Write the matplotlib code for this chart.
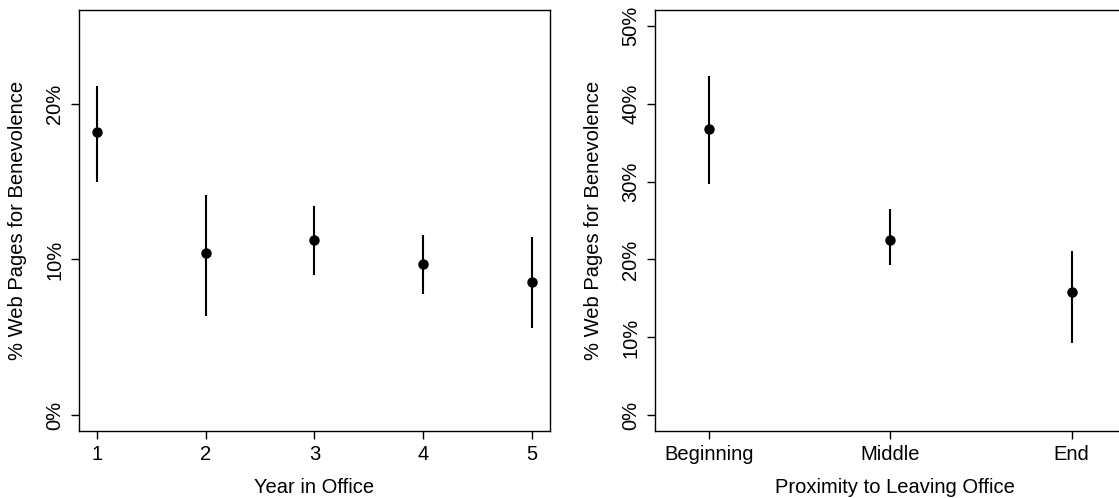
import matplotlib
matplotlib.use("Agg")
import matplotlib.pyplot as plt
import numpy as np

plt.rcParams['font.family'] = ['Liberation Sans', 'DejaVu Sans']

# Left panel: Year in Office
years = [1, 2, 3, 4, 5]
year_est = [18.16, 10.40, 11.27, 9.71, 8.54]
year_lo = [15.0, 6.37, 8.99, 7.79, 5.58]
year_hi = [21.15, 14.14, 13.45, 11.55, 11.42]
left_yticks = [0, 10, 20]

# Right panel: Proximity to Leaving Office
prox_labels = ["Beginning", "Middle", "End"]
prox_est = [36.8, 22.44, 15.77]
prox_lo = [29.74, 19.27, 9.23]
prox_hi = [43.5, 26.45, 21.1]
right_yticks = [0, 10, 20, 30, 40, 50]

FS = 14.5
fig = plt.figure(figsize=(11.19, 4.98), dpi=100)
W, H = 1119, 498
ax1 = fig.add_axes([79.3 / W, 1 - 431 / H, (549.7 - 79.3) / W, (431 - 10) / H])
ax2 = fig.add_axes([655.3 / W, 1 - 431 / H, 480 / W, (431 - 10) / H])

def style(ax):
    for s in ax.spines.values():
        s.set_linewidth(1.0)
        s.set_color('black')
    ax.tick_params(direction='out', length=6, width=1, labelsize=FS, colors='black')
    ax.tick_params(axis='y', pad=5)
    ax.tick_params(axis='x', pad=4)
    for lab in ax.get_yticklabels():
        lab.set_rotation(90)
        lab.set_va('center')

# Left
ax1.vlines(years, year_lo, year_hi, color='black', linewidth=1.5)
ax1.plot(years, year_est, 'o', color='black', markersize=6.5)
ax1.set_xlim(0.84, 5.16)
ax1.set_ylim(-1, 26)
ax1.set_xticks(years)
ax1.set_yticks(left_yticks)
ax1.set_yticklabels([f"{v}%" for v in left_yticks])
ax1.set_xlabel("Year in Office", fontsize=FS, labelpad=10)
ax1.set_ylabel("% Web Pages for Benevolence", fontsize=FS, labelpad=13)
style(ax1)

# Right
xs = np.arange(1, len(prox_labels) + 1)
ax2.vlines(xs, prox_lo, prox_hi, color='black', linewidth=1.5)
ax2.plot(xs, prox_est, 'o', color='black', markersize=6.5)
ax2.set_xlim(0.706, 0.706 + 480 / 181.5)
ax2.set_ylim(-2, 52)
ax2.set_xticks(xs)
ax2.set_xticklabels(prox_labels)
ax2.set_yticks(right_yticks)
ax2.set_yticklabels([f"{v}%" for v in right_yticks])
ax2.set_xlabel("Proximity to Leaving Office", fontsize=FS, labelpad=10)
ax2.set_ylabel("% Web Pages for Benevolence", fontsize=FS, labelpad=13)
style(ax2)
ax2.spines['right'].set_visible(False)

fig.savefig("out.png", dpi=100)
